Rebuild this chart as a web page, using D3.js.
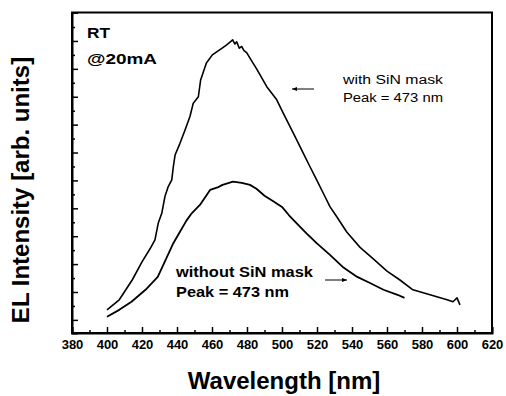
<!DOCTYPE html>
<html>
<head>
<meta charset="utf-8">
<script src="https://cdn.jsdelivr.net/npm/d3@7"></script>
<style>
  body { margin: 0; background: white; }
  text { font-family: "Liberation Sans", Arial, sans-serif; }
</style>
</head>
<body>
<div id="display"></div>
<script>
// values
const withWl  = [400, 407, 414.4, 420, 424.6, 427.4, 429.3, 431.3, 433.1, 435, 437, 437.9, 438.9, 441.7, 444.6, 447.4, 449.3, 452.2, 453.5, 456.8, 460.2, 466, 468.4, 471.8, 473.1, 474.1, 475.6, 477, 478.3, 479.8, 483, 485.5, 491.3, 497, 500.7, 504.6, 508.4, 512.2, 516, 519.8, 523.6, 527.4, 531.3, 537, 544.6, 552, 560, 567.4, 574.8, 584.6, 594.3, 597.7, 600, 601.7];
const withInt = [0.36, 0.72, 1.43, 2.08, 2.55, 2.87, 3.47, 3.82, 4.42, 4.78, 5.02, 5.49, 5.91, 6.33, 6.81, 7.29, 7.77, 8.00, 8.60, 9.21, 9.50, 9.75, 9.86, 10.04, 9.89, 9.97, 9.74, 9.80, 9.65, 9.58, 9.25, 9.00, 8.36, 7.89, 7.41, 6.93, 6.45, 5.97, 5.49, 5.02, 4.54, 4.06, 3.70, 3.15, 2.60, 2.20, 1.75, 1.43, 1.08, 0.90, 0.72, 0.65, 0.79, 0.54];

const withoutWl  = [400, 407, 414, 422, 429, 433.5, 437.9, 441.7, 445.3, 448.4, 453.1, 458.9, 463.6, 466, 472, 477, 481.7, 485.4, 490, 495, 500, 504, 508.4, 514, 519.8, 527.4, 534.7, 543, 550, 558, 566, 570];
const withoutInt = [0.11, 0.36, 0.65, 1.08, 1.54, 2.15, 2.75, 3.16, 3.55, 3.82, 4.12, 4.66, 4.76, 4.84, 4.96, 4.91, 4.84, 4.70, 4.45, 4.25, 4.05, 3.75, 3.46, 3.10, 2.75, 2.33, 1.90, 1.54, 1.33, 1.08, 0.90, 0.79];

const xDomain = [380, 620];
const xMajor = d3.range(380, 621, 20);
const xMinor = d3.range(390, 620, 20);
const yDomain = [-0.47, 11.02];
const yMajor = d3.range(0, 11, 1);
const yMinor = d3.range(0.5, 11, 1);

const width = 506, height = 396;
const margin = {top: 12.5, right: 14, bottom: 63, left: 72};

const svg = d3.select('#display')
    .append('svg')
    .attr('width', width)
    .attr('height', height);

const x = d3.scaleLinear().domain(xDomain).range([margin.left, width - margin.right]);
const y = d3.scaleLinear().domain(yDomain).range([height - margin.bottom, margin.top]);

// frame
svg.append('rect')
    .attr('x', margin.left)
    .attr('y', margin.top)
    .attr('width', width - margin.left - margin.right)
    .attr('height', height - margin.top - margin.bottom)
    .attr('fill', 'none')
    .attr('stroke', 'black')
    .attr('stroke-width', 2);

// bottom axis, ticks pointing inward
const xAxis = svg.append('g')
    .attr('transform', `translate(0, ${height - margin.bottom})`)
    .call(d3.axisBottom(x).tickValues(xMajor).tickSize(-6).tickPadding(7).tickFormat(d3.format('d')));
xAxis.select('.domain').attr('stroke-width', 2);
xAxis.selectAll('.tick line').attr('stroke-width', 1.5);
xAxis.selectAll('.tick text')
    .attr('font-size', '13px')
    .attr('font-weight', 'bold')
    .attr('font-family', '"Liberation Sans", Arial, sans-serif')
    .attr('fill', 'black');

svg.append('g')
    .attr('transform', `translate(0, ${height - margin.bottom})`)
    .call(d3.axisBottom(x).tickValues(xMinor).tickSize(-3).tickFormat(''))
    .call(g => g.select('.domain').remove())
    .selectAll('.tick line').attr('stroke-width', 1.5);

// left axis, no labels
const yAxis = svg.append('g')
    .attr('transform', `translate(${margin.left}, 0)`)
    .call(d3.axisLeft(y).tickValues(yMajor).tickSize(-6).tickFormat(''));
yAxis.select('.domain').attr('stroke-width', 2);
yAxis.selectAll('.tick line').attr('stroke-width', 1.5);

svg.append('g')
    .attr('transform', `translate(${margin.left}, 0)`)
    .call(d3.axisLeft(y).tickValues(yMinor).tickSize(-3).tickFormat(''))
    .call(g => g.select('.domain').remove())
    .selectAll('.tick line').attr('stroke-width', 1.5);

// curves
const line = d3.line()
    .x(d => x(d[0]))
    .y(d => y(d[1]));

svg.append('path')
    .datum(d3.zip(withWl, withInt))
    .attr('d', line)
    .attr('fill', 'none')
    .attr('stroke', 'black')
    .attr('stroke-width', 1.6)
    .attr('stroke-linejoin', 'round');

svg.append('path')
    .datum(d3.zip(withoutWl, withoutInt))
    .attr('d', line)
    .attr('fill', 'none')
    .attr('stroke', 'black')
    .attr('stroke-width', 1.8)
    .attr('stroke-linejoin', 'round');

// axis titles
svg.append('text')
    .attr('x', 284)
    .attr('y', 389)
    .attr('text-anchor', 'middle')
    .attr('font-size', '24px')
    .attr('font-weight', 'bold')
    .text('Wavelength [nm]');

svg.append('text')
    .attr('transform', 'translate(29, 190) rotate(-90)')
    .attr('text-anchor', 'middle')
    .attr('font-size', '24px')
    .attr('font-weight', 'bold')
    .text('EL Intensity [arb. units]');

// annotations (scanned lettering is wider than Liberation, so stretch to fit)
function label(tx, ty, size, weight, len, str) {
    svg.append('text')
        .attr('x', tx).attr('y', ty)
        .attr('font-size', size + 'px')
        .attr('font-weight', weight)
        .attr('textLength', len)
        .attr('lengthAdjust', 'spacingAndGlyphs')
        .text(str);
}
label(87, 38, 15, 'bold', 23, 'RT');
label(87, 64, 15, 'bold', 70, '@20mA');
label(343, 84, 12.5, 'normal', 100, 'with SiN mask');
label(343, 102, 12.5, 'normal', 100, 'Peak = 473 nm');
label(176, 277, 14, 'bold', 137, 'without SiN mask');
label(176, 297, 14, 'bold', 113, 'Peak = 473 nm');

function arrow(x1, x2, yy) {
    const dir = Math.sign(x2 - x1);
    svg.append('line')
        .attr('x1', x1).attr('y1', yy)
        .attr('x2', x2).attr('y2', yy)
        .attr('stroke', 'black')
        .attr('stroke-width', 1);
    svg.append('path')
        .attr('d', `M${x2},${yy} L${x2 - dir * 5},${yy - 2} L${x2 - dir * 5},${yy + 2} Z`)
        .attr('fill', 'black');
}
arrow(314, 292, 89);
arrow(325, 347, 280);
</script>
</body>
</html>
